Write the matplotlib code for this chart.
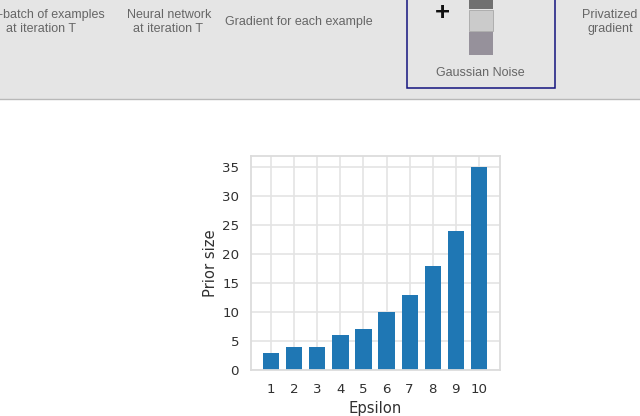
import matplotlib
matplotlib.use("Agg")
import matplotlib.pyplot as plt
from matplotlib.patches import Rectangle

epsilon = [1, 2, 3, 4, 5, 6, 7, 8, 9, 10]
prior_size = [3, 4, 4, 6, 7, 10, 13, 18, 24, 35]
yticks = [0, 5, 10, 15, 20, 25, 30, 35]

W, H = 640, 416
fig = plt.figure(figsize=(W / 100, H / 100), dpi=100, facecolor="white")

# full-figure overlay in pixel coordinates
bg = fig.add_axes([0, 0, 1, 1])
bg.set_xlim(0, W)
bg.set_ylim(H, 0)
bg.axis("off")
bg.add_patch(Rectangle((0, 0), W, 98.5, fc="#e5e5e5", ec="none"))
bg.plot([0, W], [99, 99], color="#b8b8b8", lw=1.0)
bg.add_patch(Rectangle((407, -5), 148, 93, fc="none", ec="#14147f", lw=1.1))
bg.add_patch(Rectangle((469, 0), 24, 9, fc="#707070", ec="none"))
bg.add_patch(Rectangle((469, 10), 24, 21, fc="#cbcbcb", ec="#a8a8a8", lw=0.6))
bg.add_patch(Rectangle((469, 31.5), 24, 23.5, fc="#96919b", ec="none"))

txt = dict(family="Liberation Sans", color="#666666", fontsize=9.0, va="center")
bg.text(105, 14.8, "-batch of examples", ha="right", clip_on=True, **txt)
bg.text(41, 29, "at iteration T", ha="center", **txt)
bg.text(169, 14.8, "Neural network", ha="center", **txt)
bg.text(168, 29, "at iteration T", ha="center", **txt)
bg.text(298.5, 22, "Gradient for each example", ha="center", **txt)
bg.text(480, 73, "Gaussian Noise", ha="center", **txt)
bg.text(610, 14.8, "Privatized", ha="center", **txt)
bg.text(610, 29, "gradient", ha="center", **txt)
bg.text(442, 13.2, "+", family="Liberation Sans", color="#111111", fontsize=18.5, fontweight="bold", ha="center", va="center")

# chart
ax = fig.add_axes([250.5 / W, 1 - 370 / H, 249.5 / W, 214 / H])
ax.set_axisbelow(True)
ax.bar(epsilon, prior_size, width=0.7, color="#1f77b4")
ax.set_xlim(0.1, 10.92)
ax.set_ylim(0, 36.96)
ax.set_xticks(epsilon)
ax.set_yticks(yticks)
ax.grid(True, color="#e4e4e4", lw=1.2)
for s in ax.spines.values():
    s.set_color("#dcdcdc")
    s.set_linewidth(1.3)
ax.tick_params(length=0, labelsize=9.6, labelcolor="#303030")
ax.tick_params(axis="x", pad=9.6)
ax.tick_params(axis="y", pad=8.2)
ax.set_xlabel("Epsilon", fontsize=10.6, color="#303030", labelpad=3.4)
ax.set_ylabel("Prior size", fontsize=10.6, color="#303030", labelpad=2.8)

fig.savefig("out.png", dpi=100)
